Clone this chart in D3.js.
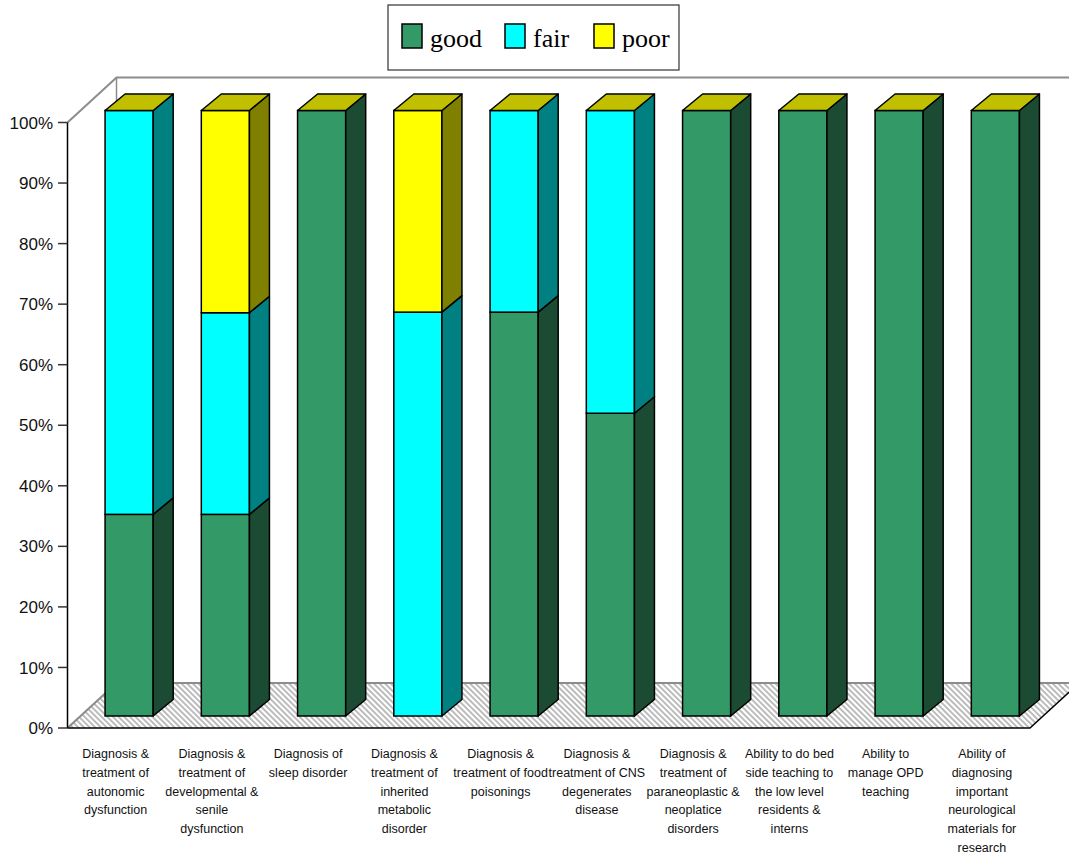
<!DOCTYPE html>
<html>
<head>
<meta charset="utf-8">
<script src="https://cdn.jsdelivr.net/npm/d3@7"></script>
<style>
  body { margin: 0; background: #fff; }
  svg { display: block; }
</style>
</head>
<body>
<script>
// category labels, already broken into lines as in the original
var labels = [
  ["Diagnosis &", "treatment of", "autonomic", "dysfunction"],
  ["Diagnosis &", "treatment of", "developmental &", "senile", "dysfunction"],
  ["Diagnosis of", "sleep disorder"],
  ["Diagnosis &", "treatment of", "inherited", "metabolic", "disorder"],
  ["Diagnosis &", "treatment of food", "poisonings"],
  ["Diagnosis &", "treatment of CNS", "degenerates", "disease"],
  ["Diagnosis &", "treatment of", "paraneoplastic &", "neoplatice", "disorders"],
  ["Ability to do bed", "side teaching to", "the low level", "residents &", "interns"],
  ["Ability to", "manage OPD", "teaching"],
  ["Ability of", "diagnosing", "important", "neurological", "materials for", "research"]
];

var good = [33.3, 33.3, 100, 0, 66.7, 50, 100, 100, 100, 100];
var fair = [66.7, 33.3, 0, 66.7, 33.3, 50, 0, 0, 0, 0];
var poor = [0, 33.4, 0, 33.3, 0, 0, 0, 0, 0, 0];

var seriesNames = ["good", "fair", "poor"];
var yTicks = [0, 10, 20, 30, 40, 50, 60, 70, 80, 90, 100];

var front = ["#339966", "#00ffff", "#ffff00"];
var side = ["#1c4b33", "#008080", "#808000"];
var topColor = "#c0c000";

var W = 1069, H = 855;
var svg = d3.select("body").append("svg")
  .attr("width", W)
  .attr("height", H);

var y = d3.scaleLinear().domain([0, 100]).range([728, 122.5]);
var x = d3.scaleBand().domain(d3.range(labels.length))
  .range([67.5, 1030]).paddingInner(0.5).paddingOuter(0.25);

// wall depth and bar placement inside it
var wallDX = 49, wallDY = 45;
var offX = 13.5, offY = 12;
var depX = 20, depY = 16.5;

// hatch for the floor
var defs = svg.append("defs");
var pat = defs.append("pattern")
  .attr("id", "hatch")
  .attr("patternUnits", "userSpaceOnUse")
  .attr("width", 4).attr("height", 4)
  .attr("patternTransform", "rotate(-45)");
pat.append("rect").attr("width", 4).attr("height", 4).attr("fill", "#fff");
pat.append("line").attr("x1", 1).attr("y1", 0).attr("x2", 1).attr("y2", 4)
  .attr("stroke", "#ababab").attr("stroke-width", 1.6);

var x0 = 67.5, x1 = 1030, y0 = y(0), yTop = y(100);

// floor
svg.append("polygon")
  .attr("points", [[x0, y0], [x1, y0], [x1 + wallDX, y0 - wallDY], [x0 + wallDX, y0 - wallDY]].join(" "))
  .attr("fill", "url(#hatch)");

var grey = "#8c8c8c";
function line(pts, col, w) {
  svg.append("polyline").attr("points", pts.join(" "))
    .attr("fill", "none").attr("stroke", col).attr("stroke-width", w || 1.5);
}
// walls outline
line([[x0, y0], [x0 + wallDX, y0 - wallDY], [x1 + wallDX, y0 - wallDY]], grey, 2);
line([[x0, yTop], [x0 + wallDX, yTop - wallDY], [W + 5, yTop - wallDY]], grey, 2);
line([[x0 + wallDX, yTop - wallDY], [x0 + wallDX, y0 - wallDY]], grey, 1.5);
line([[x0, y0], [x1, y0], [x1 + wallDX, y0 - wallDY]], "#000", 1.5);
line([[x0, yTop], [x0, y0]], "#000", 1.5);

// y axis ticks + labels
var ya = svg.append("g");
ya.selectAll("line").data(yTicks).enter().append("line")
  .attr("x1", 58).attr("x2", x0)
  .attr("y1", function(d) { return y(d); })
  .attr("y2", function(d) { return y(d); })
  .attr("stroke", "#333").attr("stroke-width", 1.5);
ya.selectAll("text").data(yTicks).enter().append("text")
  .attr("x", 53)
  .attr("y", function(d) { return y(d); })
  .attr("dy", "0.36em")
  .attr("text-anchor", "end")
  .attr("font-family", "Liberation Sans, Arial, sans-serif")
  .attr("font-size", 17)
  .attr("fill", "#111")
  .text(function(d) { return d + "%"; });

// bars
var stack = [good, fair, poor];
var bw = x.bandwidth();

labels.forEach(function(lab, i) {
  var g = svg.append("g");
  var bx0 = x(i) + offX, bx1 = bx0 + bw;
  var base = 0;
  stack.forEach(function(vals, s) {
    var v = vals[i];
    if (v <= 0) return;
    var yb = y(base) - offY, yt = y(base + v) - offY;
    g.append("rect")
      .attr("x", bx0).attr("y", yt)
      .attr("width", bw).attr("height", yb - yt)
      .attr("fill", front[s]).attr("stroke", "#000").attr("stroke-width", 1.5);
    g.append("polygon")
      .attr("points", [[bx1, yt], [bx1 + depX, yt - depY], [bx1 + depX, yb - depY], [bx1, yb]].join(" "))
      .attr("fill", side[s]).attr("stroke", "#000").attr("stroke-width", 1.5)
      .attr("stroke-linejoin", "round");
    base += v;
  });
  var yt = y(100) - offY;
  g.append("polygon")
    .attr("points", [[bx0, yt], [bx0 + depX, yt - depY], [bx1 + depX, yt - depY], [bx1, yt]].join(" "))
    .attr("fill", topColor).attr("stroke", "#000").attr("stroke-width", 1.5)
    .attr("stroke-linejoin", "round");
});

// category labels
var xl = svg.append("g")
  .attr("font-family", "Liberation Sans, Arial, sans-serif")
  .attr("font-size", 12.5)
  .attr("fill", "#111")
  .attr("text-anchor", "middle");
labels.forEach(function(lab, i) {
  var t = xl.append("text")
    .attr("x", x(i) + bw / 2)
    .attr("y", 758);
  lab.forEach(function(s, k) {
    t.append("tspan")
      .attr("x", x(i) + bw / 2)
      .attr("dy", k === 0 ? 0 : 18.8)
      .text(s);
  });
});

// legend
var leg = svg.append("g");
leg.append("rect")
  .attr("x", 388).attr("y", 5).attr("width", 291).attr("height", 65)
  .attr("fill", "#fff").attr("stroke", "#333").attr("stroke-width", 1.2);
var legX = [402, 505, 594];
seriesNames.forEach(function(nm, s) {
  leg.append("rect")
    .attr("x", legX[s]).attr("y", 24).attr("width", 20).attr("height", 24)
    .attr("fill", front[s]).attr("stroke", "#000").attr("stroke-width", 1.5);
  leg.append("text")
    .attr("x", legX[s] + 28).attr("y", 47)
    .attr("font-family", "Liberation Serif, Times New Roman, serif")
    .attr("font-size", 26)
    .attr("fill", "#000")
    .text(nm);
});
</script>
</body>
</html>
